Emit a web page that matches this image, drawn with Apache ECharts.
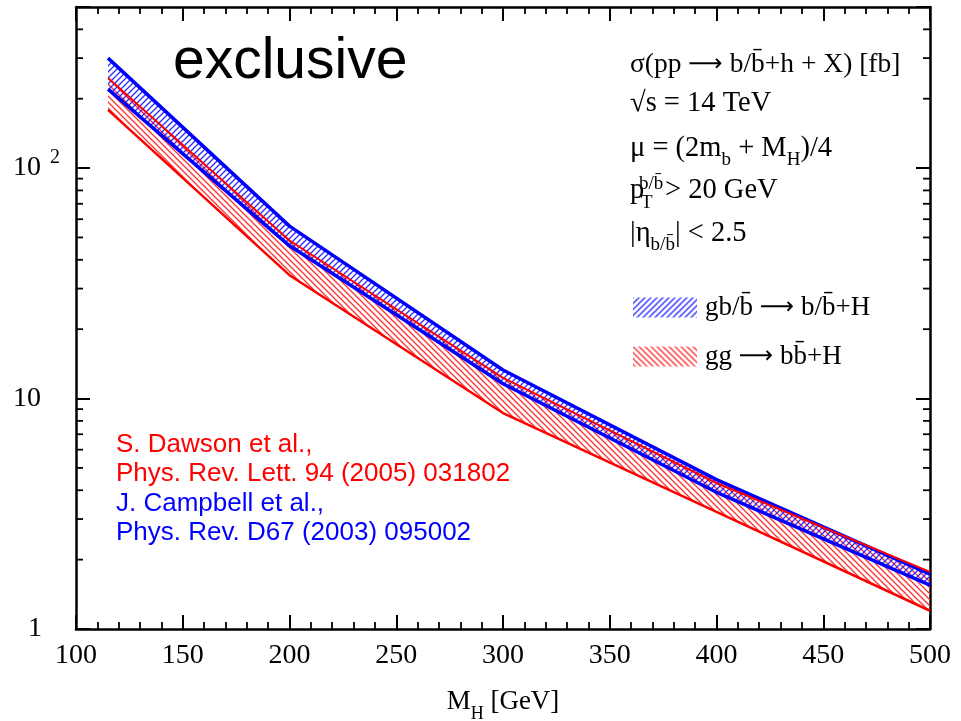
<!DOCTYPE html>
<html>
<head>
<meta charset="utf-8">
<script src="https://cdn.jsdelivr.net/npm/echarts@6/dist/echarts.min.js"></script>
<style>html,body{margin:0;padding:0;background:#fff}#c{width:961px;height:721px}</style>
</head>
<body>
<div id="c"></div>
<script>
// ---- data ----
const masses  = [115, 200, 300, 400, 500];          // M_H [GeV]
const gbUpper = [300, 56, 13.3, 4.45, 1.73];        // gb/b̄ -> b/b̄+H band, upper edge [fb]
const gbLower = [220, 46, 11.6, 3.92, 1.55];        // gb/b̄ -> b/b̄+H band, lower edge [fb]
const ggUpper = [246, 48.5, 12.3, 4.3, 1.77];       // gg -> bb̄+H band, upper edge [fb]
const ggLower = [179, 34.3, 8.65, 3.22, 1.20];      // gg -> bb̄+H band, lower edge [fb]
const xMin = 100, xMax = 500, xStep = 50;
const yMin = 1, yMax = 500;
const yMinorTicks = [2,3,4,5,6,7,8,9,20,30,40,50,60,70,80,90,200,300,400];
const nameGb = 'gb/b\u0304 \u2192 b/b\u0304+H';
const nameGg = 'gg \u2192 bb\u0304+H';

function hatch(color, dir) {
  const s = 6;
  const c = document.createElement('canvas'); c.width = s; c.height = s;
  const g = c.getContext('2d');
  g.strokeStyle = color; g.lineWidth = 1.3;
  g.beginPath();
  if (dir > 0) {
    g.moveTo(-1, s + 1); g.lineTo(s + 1, -1);
    g.moveTo(-2, 2); g.lineTo(2, -2);
    g.moveTo(s - 2, s + 2); g.lineTo(s + 2, s - 2);
  } else {
    g.moveTo(-1, -1); g.lineTo(s + 1, s + 1);
    g.moveTo(-2, s - 2); g.lineTo(2, s + 2);
    g.moveTo(s - 2, -2); g.lineTo(s + 2, 2);
  }
  g.stroke();
  return c;
}
const blueHatch = { image: hatch('#2a2aff', 1), repeat: 'repeat' };
const redHatch  = { image: hatch('#ff3030', -1), repeat: 'repeat' };

function bandData(lo, hi) { return masses.map((m, i) => [m, lo[i], hi[i]]); }
function bandRender(fill) {
  return function (params, api) {
    if (params.dataIndexInside !== 0) return null;
    const n = params.dataInsideLength;
    const top = [], bot = [];
    for (let j = 0; j < n; j++) {
      const x = api.value(0, j);
      bot.push(api.coord([x, api.value(1, j)]));
      top.push(api.coord([x, api.value(2, j)]));
    }
    return { type: 'polygon', shape: { points: bot.concat(top.reverse()) },
             style: { fill: fill, stroke: null } };
  };
}
function edge(vals, color, w, z) {
  return { type: 'line', data: masses.map((m, i) => [m, vals[i]]), symbol: 'none',
           silent: true, z: z, lineStyle: { color: color, width: w }, itemStyle: { color: color } };
}

const serif = '"Liberation Serif","DejaVu Serif",serif';
const sans = '"Liberation Sans",Arial,sans-serif';
const arrowFont = '"DejaVu Sans",sans-serif';

function xAxisDef(pos, labels) {
  return {
    type: 'value', position: pos, min: xMin, max: xMax, interval: xStep,
    axisLine: { show: true, onZero: false, lineStyle: { color: '#000', width: 2.5 } },
    axisTick: { show: true, inside: true, length: 14, lineStyle: { color: '#000', width: 2 } },
    minorTick: { show: true, splitNumber: 5, length: 7, lineStyle: { color: '#000', width: 1.8 } },
    splitLine: { show: false }, minorSplitLine: { show: false },
    axisLabel: { show: labels, color: '#000', fontFamily: serif, fontSize: 28, margin: 13 },
    name: labels ? '{m|M}{s|H}{m| [GeV]}' : '', nameLocation: 'middle', nameGap: 52,
    nameTextStyle: { rich: {
      m: { fontFamily: serif, fontSize: 27, color: '#000', lineHeight: 42 },
      s: { fontFamily: serif, fontSize: 18, color: '#000', lineHeight: 18, verticalAlign: 'bottom' }
    } }
  };
}
function yAxisDef(pos, labels) {
  return {
    type: 'log', logBase: 10, position: pos, min: yMin, max: yMax,
    axisLine: { show: true, onZero: false, lineStyle: { color: '#000', width: 2.5 } },
    axisTick: { show: true, inside: true, length: 14, lineStyle: { color: '#000', width: 2 } },
    minorTick: { show: false }, splitLine: { show: false },
    axisLabel: {
      show: labels, align: 'left', margin: 63,
      formatter: function (v) {
        const l = Math.log10(v), r = Math.round(l);
        if (Math.abs(l - r) > 1e-6) return '';
        if (r === 0) return '{p|1}';
        if (r === 1) return '{n|10}';
        return '{n|10}{sup|' + r + '}';
      },
      rich: {
        n: { fontFamily: serif, fontSize: 28, color: '#000', lineHeight: 40 },
        p: { fontFamily: serif, fontSize: 28, color: '#000', lineHeight: 40, padding: [0, 0, 0, 15] },
        sup: { fontFamily: serif, fontSize: 20, color: '#000', lineHeight: 22, verticalAlign: 'top', padding: [0, 0, 0, 9] }
      }
    }
  };
}

const chart = echarts.init(document.getElementById('c'), null, { renderer: 'canvas' });
const option = {
  backgroundColor: '#fff',
  animation: false,
  grid: { left: 76, right: 31, top: 7, bottom: 92, containLabel: false, outerBoundsMode: 'none' },
  xAxis: [xAxisDef('bottom', true), xAxisDef('top', false)],
  yAxis: [yAxisDef('left', true), yAxisDef('right', false)],
  legend: {
    orient: 'vertical', left: 628, top: 289, itemWidth: 64, itemHeight: 20, itemGap: 22,
    icon: 'rect', selectedMode: false,
    formatter: function (name) { return name.replace('\u2192', '{a|\u27f6}'); },
    textStyle: { fontFamily: serif, fontSize: 27, color: '#000', padding: [0, 0, 0, 3],
      rich: { a: { fontFamily: arrowFont, fontSize: 24, color: '#000' } } },
    data: [
      { name: nameGb, itemStyle: { color: blueHatch } },
      { name: nameGg, itemStyle: { color: redHatch } }
    ]
  },
  series: [
    { type: 'custom', name: nameGg, data: bandData(ggLower, ggUpper), z: 2, silent: true,
      itemStyle: { color: redHatch }, renderItem: bandRender(redHatch) },
    edge(ggLower, '#ff0000', 2.5, 3),
    { type: 'custom', name: nameGb, data: bandData(gbLower, gbUpper), z: 4, silent: true,
      itemStyle: { color: blueHatch }, renderItem: bandRender(blueHatch) },
    edge(gbLower, '#0000ff', 3.5, 5),
    edge(gbUpper, '#0000ff', 3.5, 5),
    edge(ggUpper, '#ff0000', 2, 6),
    { type: 'custom', name: 'minorTicks', silent: true, z: 7,
      data: yMinorTicks.map(v => [xMin, v]),
      renderItem: function (params, api) {
        const v = api.value(1);
        const a = api.coord([xMin, v]);
        const b = api.coord([xMax, v]);
        return { type: 'group', children: [
          { type: 'line', shape: { x1: a[0], y1: a[1], x2: a[0] + 7, y2: a[1] }, style: { stroke: '#000', lineWidth: 1.8 } },
          { type: 'line', shape: { x1: b[0] - 7, y1: b[1], x2: b[0], y2: b[1] }, style: { stroke: '#000', lineWidth: 1.8 } }
        ] };
      }
    }
  ],
  graphic: [
    { type: 'text', x: 173, y: 62, style: { text: 'exclusive', font: '57px ' + sans, fill: '#000', verticalAlign: 'middle' } },
    { type: 'text', x: 630, y: 65, style: {
        text: '\u03c3(pp {a|\u27f6} b/b\u0304+h + X) [fb]', font: '27.5px ' + serif, fill: '#000', verticalAlign: 'middle',
        rich: { a: { fontFamily: arrowFont, fontSize: 24, fill: '#000' } } } },
    { type: 'text', x: 630, y: 104, style: { text: '\u221as = 14 TeV', font: '28.5px ' + serif, fill: '#000', verticalAlign: 'middle' } },
    { type: 'text', x: 630, y: 149, style: {
        text: '\u03bc = (2m{sub|b} + M{sub|H})/4', font: '28.5px ' + serif, fill: '#000', verticalAlign: 'middle', lineHeight: 42,
        rich: { sub: { fontFamily: serif, fontSize: 19, lineHeight: 18, verticalAlign: 'bottom', fill: '#000' } } } },
    { type: 'text', x: 630, y: 191, style: { text: 'p', font: '28.5px ' + serif, fill: '#000', verticalAlign: 'middle' } },
    { type: 'text', x: 639, y: 184, style: { text: 'b/b\u0304', font: '19px ' + serif, fill: '#000', verticalAlign: 'middle' } },
    { type: 'text', x: 641, y: 203, style: { text: 'T', font: '19px ' + serif, fill: '#000', verticalAlign: 'middle' } },
    { type: 'text', x: 665, y: 191, style: { text: '> 20 GeV', font: '28.5px ' + serif, fill: '#000', verticalAlign: 'middle' } },
    { type: 'text', x: 630, y: 234, style: {
        text: '|\u03b7{sub|b/b\u0304}| < 2.5', font: '28.5px ' + serif, fill: '#000', verticalAlign: 'middle', lineHeight: 42,
        rich: { sub: { fontFamily: serif, fontSize: 19, lineHeight: 18, verticalAlign: 'bottom', fill: '#000' } } } },
    { type: 'text', x: 116, y: 445, style: { text: 'S. Dawson et al.,', font: '26px ' + sans, fill: '#ff0000', verticalAlign: 'middle' } },
    { type: 'text', x: 116, y: 474, style: { text: 'Phys. Rev. Lett. 94 (2005) 031802', font: '26px ' + sans, fill: '#ff0000', verticalAlign: 'middle' } },
    { type: 'text', x: 116, y: 504, style: { text: 'J. Campbell et al.,', font: '26px ' + sans, fill: '#0000ff', verticalAlign: 'middle' } },
    { type: 'text', x: 116, y: 533, style: { text: 'Phys. Rev. D67 (2003) 095002', font: '26px ' + sans, fill: '#0000ff', verticalAlign: 'middle' } }
  ]
};
chart.setOption(option);
</script>
</body>
</html>
